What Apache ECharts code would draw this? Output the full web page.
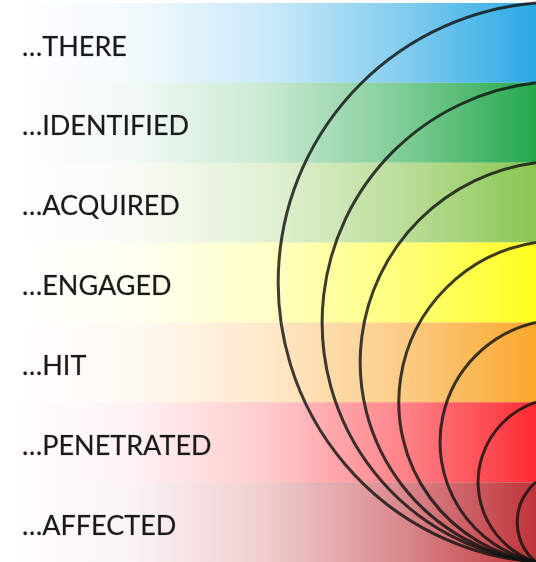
<!DOCTYPE html>
<html><head><meta charset="utf-8">
<script src="https://cdn.jsdelivr.net/npm/echarts@6/dist/echarts.min.js"></script>
<style>html,body{margin:0;padding:0;background:#fff}#c{width:536px;height:562px}</style>
</head><body><div id="c"></div>
<script>
// Band labels (top to bottom)
var categories = ['…THERE', '…IDENTIFIED', '…ACQUIRED', '…ENGAGED', '…HIT', '…PENETRATED', '…AFFECTED'];
// Band colours at the right edge
var bandColors = ['#2aa9e4', '#24a84c', '#8ac651', '#ffff1c', '#f9a72c', '#fe2b33', '#bf343a'];
// Band extent (each band spans the full width, in % of width)
var bandValues = [100, 100, 100, 100, 100, 100, 100];
// Arcs: start boundary (band index at right edge) and leftmost reach (% of width)
var arcTops = [0, 1, 2, 3, 4, 5, 6];
var arcLeftmost = [51.9, 60.1, 67.2, 74.4, 82.1, 89.2, 96.5];

function rgba(hex, a) {
  var n = parseInt(hex.slice(1), 16);
  return 'rgba(' + ((n >> 16) & 255) + ',' + ((n >> 8) & 255) + ',' + (n & 255) + ',' + a + ')';
}
var barData = bandValues.map(function (v, i) {
  var c = bandColors[i];
  return {
    value: v,
    itemStyle: {
      color: {
        type: 'linear', x: 0, y: 0, x2: 1, y2: 0,
        colorStops: [
          { offset: 0, color: rgba(c, 0.0) },
          { offset: 0.25, color: rgba(c, 0.06) },
          { offset: 0.5, color: rgba(c, 0.25) },
          { offset: 0.75, color: rgba(c, 0.58) },
          { offset: 1, color: rgba(c, 1) }
        ]
      }
    }
  };
});
var arcData = arcTops.map(function (t, i) { return [t, arcLeftmost[i]]; });

var chart = echarts.init(document.getElementById('c'), null, { renderer: 'canvas' });
chart.setOption({
  animation: false,
  backgroundColor: '#ffffff',
  grid: { left: 0, right: 0, top: 3, bottom: 0 },
  xAxis: { type: 'value', min: 0, max: 100, show: false },
  yAxis: [
    { type: 'category', data: categories, inverse: true, show: false },
    { type: 'value', min: 0, max: 7, inverse: true, show: false }
  ],
  series: [
    {
      type: 'bar',
      yAxisIndex: 0,
      data: barData,
      barWidth: '100%',
      barCategoryGap: 0,
      label: {
        show: true,
        position: 'insideLeft',
        distance: 22,
        formatter: function (p) { return p.name; },
        color: '#1a1a1a',
        fontFamily: 'Lato',
        fontSize: 27,
        offset: [0, 4],
        textBorderColor: 'rgba(26,26,26,0.35)',
        textBorderWidth: 0.6
      },
      z: 1
    },
    {
      type: 'custom',
      yAxisIndex: 1,
      data: arcData,
      z: 5,
      renderItem: function (params, api) {
        var top = api.value(0), left = api.value(1);
        var p1 = api.coord([100, top]);
        var p2 = api.coord([100, 7]);
        var pl = api.coord([left, (top + 7) / 2]);
        var h = (p2[1] - p1[1]) / 2;
        var L = p1[0] - pl[0];
        var r = (L + h * h / L) / 2;
        var d = (h * h / L - L) / 2;
        var cx = p1[0] + d, cy = (p1[1] + p2[1]) / 2;
        var a1 = Math.atan2(p1[1] - cy, p1[0] - cx);
        var a2 = Math.atan2(p2[1] - cy, p2[0] - cx);
        return {
          type: 'arc',
          shape: { cx: cx, cy: cy, r: r, startAngle: a2, endAngle: a1 + Math.PI * 2, clockwise: true },
          style: { fill: null, stroke: 'rgba(18,18,18,0.82)', lineWidth: 3 }
        };
      }
    }
  ]
});
</script></body></html>
